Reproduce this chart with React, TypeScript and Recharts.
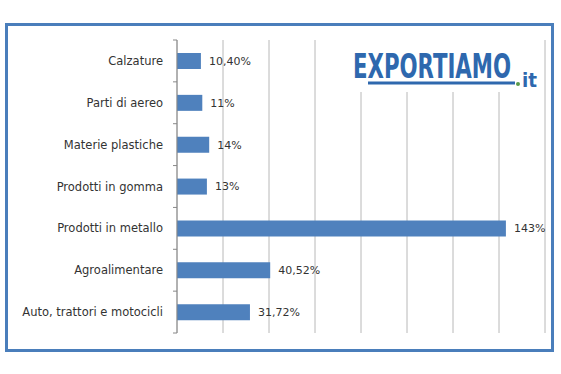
import React from 'react';
import { BarChart, Bar, XAxis, YAxis, CartesianGrid, LabelList } from 'recharts';

const categories = [
  'Calzature',
  'Parti di aereo',
  'Materie plastiche',
  'Prodotti in gomma',
  'Prodotti in metallo',
  'Agroalimentare',
  'Auto, trattori e motocicli',
];
const values = [10.4, 11, 14, 13, 143, 40.52, 31.72];
const valueLabels = ['10,40%', '11%', '14%', '13%', '143%', '40,52%', '31,72%'];
const xTicks = [0, 20, 40, 60, 80, 100, 120, 140, 160];

const data = categories.map((name, i) => ({ name, value: values[i], label: valueLabels[i] }));

const W = 561;
const H = 374;
const M = { top: 40, right: 16, bottom: 41, left: 7 };
const Y_W = 170;
const AXIS_X = M.left + Y_W;
const BAND = (H - M.top - M.bottom) / categories.length;

const YTick = (props: any) => {
  const { y, payload, index } = props;
  return (
    <g>
      <text x={AXIS_X - 14} y={y} dy={4} textAnchor="end" fontSize={11.5} fill="#333" fontFamily="DejaVu Sans">
        {payload.value}
      </text>
      <line x1={AXIS_X - 4} x2={AXIS_X} y1={y + BAND / 2} y2={y + BAND / 2} stroke="#888" />
      {index === 0 && <line x1={AXIS_X - 4} x2={AXIS_X} y1={y - BAND / 2} y2={y - BAND / 2} stroke="#888" />}
    </g>
  );
};

export default function App() {
  return (
    <div style={{ position: 'absolute', left: 0, top: 0, width: W, height: H, background: '#fff' }}>
      <div
        style={{
          position: 'absolute',
          left: 5,
          top: 23,
          width: 554 - 5,
          height: 352 - 23,
          border: '3px solid #4A7EBB',
          boxSizing: 'border-box',
        }}
      />
      <div style={{ position: 'absolute', left: 0, top: 0 }}>
        <BarChart width={W} height={H} data={data} layout="vertical" margin={M} barSize={16}>
          <CartesianGrid horizontal={false} vertical={true} stroke="#B8B8B8" />
          <XAxis type="number" domain={[0, 160]} ticks={xTicks} hide />
          <YAxis
            type="category"
            dataKey="name"
            width={Y_W}
            axisLine={{ stroke: '#888' }}
            tickLine={false}
            tick={<YTick />}
            interval={0}
          />
          <Bar dataKey="value" fill="#4F81BD" isAnimationActive={false}>
            <LabelList dataKey="label" position="right" offset={8} fontSize={11} fill="#333" fontFamily="DejaVu Sans" />
          </Bar>
        </BarChart>
      </div>
      <svg style={{ position: 'absolute', left: 0, top: 0 }} width={W} height={H}>
        <rect x={345} y={37} width={195} height={55} fill="#fff" />
        <text
          x={353}
          y={78}
          fontSize={34}
          fontWeight="bold"
          fontFamily="Liberation Sans Narrow, DejaVu Sans Condensed, sans-serif"
          fill="#2E68AE"
          textLength={158}
          lengthAdjust="spacingAndGlyphs"
        >
          EXPORTIAMO
        </text>
        <line x1={368} x2={515} y1={83} y2={83} stroke="#2E68AE" strokeWidth={3} />
        <circle cx={518} cy={84} r={2} fill="#5a9a4a" />
        <text
          x={522}
          y={87}
          fontSize={19}
          fontWeight="bold"
          fontFamily="Liberation Sans Narrow, DejaVu Sans Condensed, sans-serif"
          fill="#2E68AE"
          textLength={15}
          lengthAdjust="spacingAndGlyphs"
        >
          it
        </text>
      </svg>
    </div>
  );
}
